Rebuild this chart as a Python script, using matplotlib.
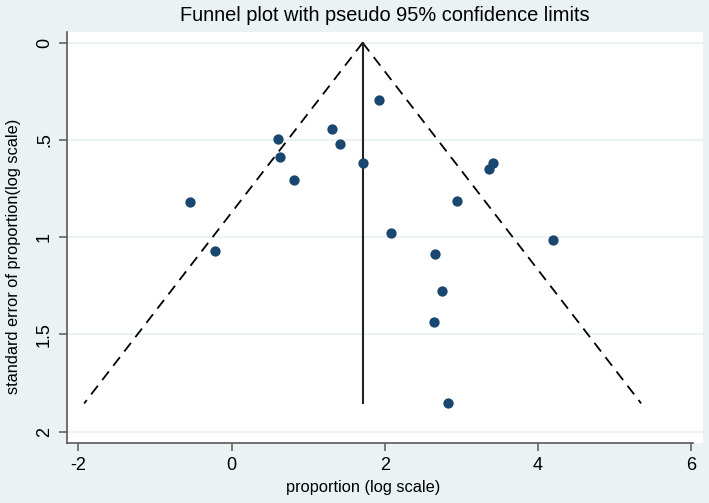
import numpy as np
import matplotlib
matplotlib.use("Agg")
import matplotlib.pyplot as plt

# study estimates: log proportion and its standard error
log_prop = [-0.54, -0.22, 0.61, 0.635, 0.82, 1.305, 1.41, 1.92, 1.72, 3.41,
            3.36, 2.94, 2.08, 4.19, 2.65, 2.75, 2.64, 2.83]
se_log = [0.82, 1.07, 0.494, 0.589, 0.704, 0.442, 0.519, 0.295, 0.617, 0.62,
          0.648, 0.814, 0.98, 1.014, 1.085, 1.275, 1.438, 1.855]

pooled = 1.71          # vertical line (pooled estimate)
se_max = 1.855          # funnel bottom
xticks = [-2, 0, 2, 4, 6]
yticks = [0, 0.5, 1, 1.5, 2]
ytick_labels = ["0", ".5", "1", "1.5", "2"]

bg = "#EAF2F3"
navy = "#1A476F"
axcol = "#595959"

plt.rcParams['font.family'] = ['Liberation Sans', 'DejaVu Sans']
plt.rcParams['axes.unicode_minus'] = False

fig = plt.figure(figsize=(7.09, 5.03), dpi=100, facecolor=bg)
ax = fig.add_axes([0.0945, 0.1199, 0.897, 0.8171])
ax.set_facecolor("white")

# pseudo 95% limits
se_line = np.array([0, se_max])
ax.plot(pooled - 1.96 * se_line, se_line, color="black", lw=1.3,
        dashes=(6, 4))
ax.plot(pooled + 1.96 * se_line, se_line, color="black", lw=1.3,
        dashes=(6, 4))
ax.plot([pooled, pooled], [0, se_max], color="#222222", lw=1.5)

ax.scatter(log_prop, se_log, s=55, color=navy, zorder=3, linewidths=0)

ax.set_xlim(-2.15, 6.153)
ax.set_ylim(2.057, -0.057)
ax.set_xticks(xticks)
ax.set_yticks(yticks)
ax.set_yticklabels(ytick_labels, rotation=90, va="center")
ax.grid(axis="y", color=bg, lw=1.5)
ax.set_axisbelow(True)

for s in ["top", "right"]:
    ax.spines[s].set_visible(False)
for s in ["left", "bottom"]:
    ax.spines[s].set_color(axcol)
    ax.spines[s].set_linewidth(1.2)
ax.spines["bottom"].set_bounds(-2.15, 6.02)
ax.tick_params(colors=axcol, labelcolor="black", labelsize=13, length=6,
               width=1.1, pad=4)

ax.set_xlabel("proportion (log scale)", fontsize=11.8, va="center")
ax.xaxis.set_label_coords(0.466, -0.110)
ax.set_ylabel("standard error of proportion(log scale)", fontsize=11.8,
              va="center")
ax.yaxis.set_label_coords(-0.084, 0.453)
ax.set_title("Funnel plot with pseudo 95% confidence limits", fontsize=14.4,
             pad=8)

fig.savefig("out.png", dpi=100, facecolor=bg)
